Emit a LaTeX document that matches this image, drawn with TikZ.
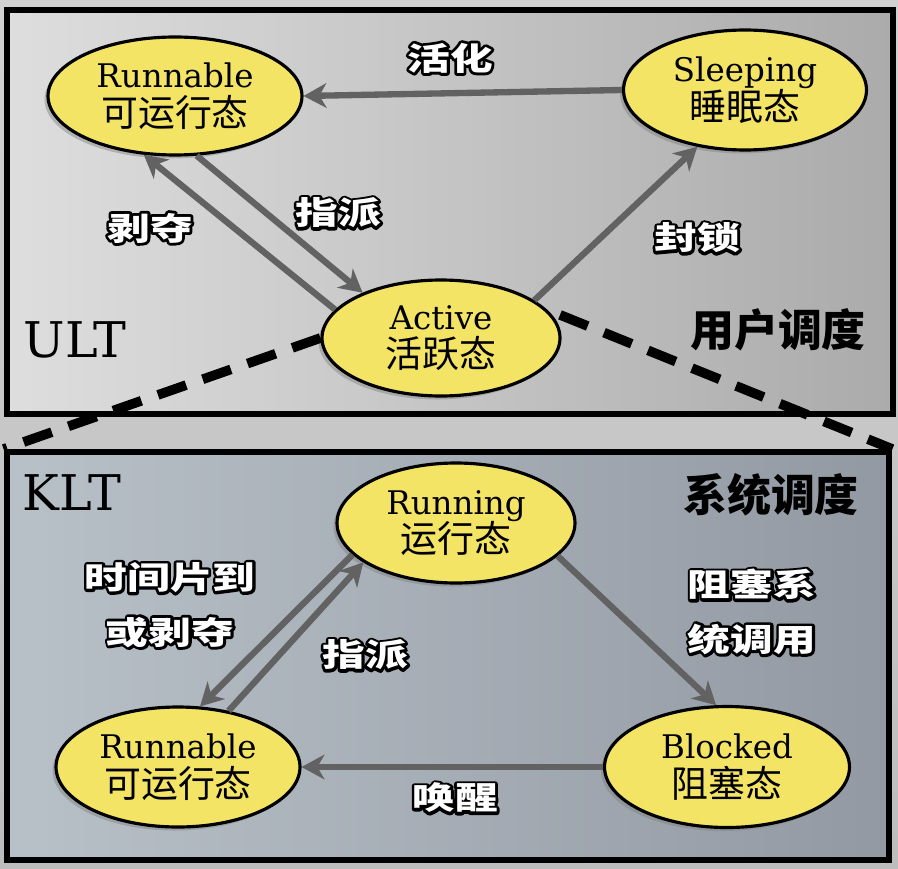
\documentclass[tikz,border=0pt]{standalone}
\usepackage{fontspec}
\usetikzlibrary{shapes.geometric,shadows,arrows.meta}
\newfontfamily\cjk{Noto Sans CJK SC}
\newfontfamily\lblfont[FakeStretch=1.35]{Noto Sans CJK SC}
\newfontfamily\statefont{DejaVu Serif}
% white text with a black rim: a stroked copy under the filled one
\newcommand\rim[1]{\rlap{\special{pdf:literal direct 1 Tr 3.2 w 1 j 0 G}#1\special{pdf:literal direct 0 Tr}}#1}
\newcommand\zh[1]{{\cjk\fontsize{21}{22}\selectfont #1}}
\definecolor{ellfill}{RGB}{243,228,102}
\definecolor{arrgray}{RGB}{98,98,98}
\definecolor{kltleft}{RGB}{184,192,200}
\definecolor{kltright}{RGB}{146,153,162}

\begin{document}
\begin{tikzpicture}[x=0.02cm, y=-0.02cm,
	state/.style = {ellipse, draw, line width=1.8pt, fill=ellfill, inner sep=0pt, align=center, font=\statefont\fontsize{18.5}{22}\selectfont, drop shadow={shadow xshift=-2pt, shadow yshift=-2pt, opacity=0.45}},
	box/.style = {draw, line width=3.4pt, inner sep=0pt},
	move/.style = {draw=arrgray, line width=3.6pt, -{Stealth[length=13pt, width=14pt, inset=4pt]}},
	map/.style = {line width=5.5pt, dash pattern=on 17pt off 10pt},
	lbl/.style = {text=white, font=\lblfont\bfseries\fontsize{18}{31}\selectfont, align=center},
	tag/.style = {font=\statefont\fontsize{28}{28}\selectfont},
	sched/.style = {font=\cjk\bfseries\fontsize{25}{25}\selectfont}]
	\useasboundingbox (0,0) rectangle (898,868);
	\fill[top color=black!18, bottom color=black!26] (0,0) rectangle (898,868);
	% the two levels
	\node[box, left color=black!13, right color=black!33, minimum width=17.72cm, minimum height=8.1cm] (ult) at (450,212) {};
	\node[box, left color=kltleft, right color=kltright, minimum width=17.66cm, minimum height=8.16cm] (klt) at (448,656) {};
	\node[tag] (ulttag) at (75,340) {ULT};
	\node[tag] (klttag) at (72,493) {KLT};
	\node[sched] (usched) at (778,330) {用户调度};
	\node[sched] (ksched) at (771,495) {系统调度};
	% user level states
	\node[state, minimum width=5.08cm, minimum height=2.36cm] (1) at (175,96) {Runnable\\\zh{可运行态}};
	\node[state, minimum width=4.86cm, minimum height=2.4cm] (2) at (745,90) {Sleeping\\\zh{睡眠态}};
	\node[state, minimum width=4.76cm, minimum height=2.32cm] (3) at (441,338) {Active\\\zh{活跃态}};
	% kernel level states
	\node[state, minimum width=4.76cm, minimum height=2.4cm] (4) at (456,523) {Running\\\zh{运行态}};
	\node[state, minimum width=4.88cm, minimum height=2.4cm] (5) at (178,767) {Runnable\\\zh{可运行态}};
	\node[state, minimum width=4.9cm, minimum height=2.42cm] (6) at (727,767) {Blocked\\\zh{阻塞态}};
	\draw[map] (3.west) -- (klt.north west);
	\draw[map, shorten <=8pt] (3.15) -- (klt.north east);
	\draw[move] (2.west) -- (1.east);
	\draw[move] (1.-70) -- (3.150);
	\draw[move] (3.165) -- (1.-118);
	\draw[move] (3.22) -- (2.-130);
	\draw[move] (4.197) -- (5.70);
	\draw[move] (5.48) -- (4.203);
	\draw[move] (4.-18) -- (6.100);
	\draw[move] (6.west) -- (5.east);
	\node[lbl] (a1) at (450,58) {\rim{活化}};
	\node[lbl] (a2) at (150,228) {\rim{剥夺}};
	\node[lbl] (a3) at (338,213) {\rim{指派}};
	\node[lbl] (a4) at (697,238) {\rim{封锁}};
	\node[lbl] (b1) at (170,605) {\rim{时间片到}\\\rim{或剥夺}};
	\node[lbl] (b2) at (365,655) {\rim{指派}};
	\node[lbl] (b3) at (752,612) {\rim{阻塞系}\\\rim{统调用}};
	\node[lbl] (b4) at (455,798) {\rim{唤醒}};
\end{tikzpicture}
\end{document}
